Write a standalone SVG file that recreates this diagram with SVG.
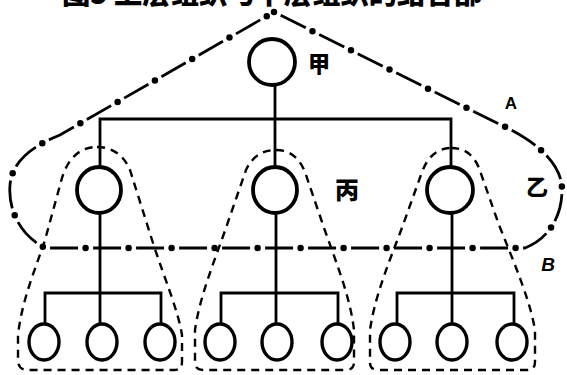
<svg xmlns="http://www.w3.org/2000/svg" width="567" height="375" viewBox="0 0 567 375">
<style>
.bg{fill:#fff}
.tree{fill:none;stroke:#000;stroke-width:2.8;stroke-linecap:square}
.node{fill:#fff;stroke:#000;stroke-width:3.8}
.small{fill:#fff;stroke:#000;stroke-width:3.4}
.grp{fill:none;stroke:#000;stroke-width:2.4;stroke-dasharray:8 6}
.dash{fill:none;stroke:#000;stroke-width:2.8;stroke-dasharray:28 15;stroke-dashoffset:35.5}
.dots{fill:none;stroke:#000;stroke-width:6.5;stroke-linecap:round;stroke-dasharray:0 43}
.cjk{font-family:"Noto Sans CJK SC","Noto Sans CJK JP",sans-serif;font-weight:900;fill:#000;text-anchor:middle}
.lat{font-family:"Liberation Sans",Arial,sans-serif;font-weight:bold;fill:#000;text-anchor:middle}
</style>
<rect class="bg" x="0" y="0" width="567" height="375"/>
<text class="cjk" x="62" y="4" font-size="28" textLength="420" lengthAdjust="spacingAndGlyphs" style="text-anchor:start">图5 上层组织与下层组织的结合部</text>

<g id="loops">
  <path id="loopA" class="dash" d="M274,12 L497,123 C530,138 562,160 562,190 C562,215 550,238 525,248 L45,248 C20,235 8,210 10,185 C12,160 35,145 60,135 Z"/>
  <path class="dots" d="M274,12 L497,123 C530,138 562,160 562,190 C562,215 550,238 525,248 L45,248 C20,235 8,210 10,185 C12,160 35,145 60,135 Z"/>
  <path id="grpL" class="grp" d="M97,147 C115,147 125,158 130,170 L153,243 C165,280 178,310 182,335 L182,362 Q182,370 174,370 L28,370 Q18,370 18,360 L18,335 C22,300 35,270 45,240 L62,178 C68,158 80,147 97,147 Z"/>
  <path id="grpM" class="grp" d="M276,150 C292,150 300,160 305,172 L322,222 C335,260 350,295 354,330 L354,362 Q354,370 346,370 L203,370 Q195,370 195,362 L195,330 C200,295 215,260 228,222 L246,170 C252,157 262,150 276,150 Z"/>
  <path id="grpR" class="grp" d="M451,148 C466,148 474,156 479,168 L499,225 C515,265 530,300 535,330 L535,362 Q535,370 527,370 L378,370 Q370,370 370,362 L370,330 C375,295 390,260 403,225 L422,172 C428,156 438,148 451,148 Z"/>
</g>

<g id="connectors">
  <path class="tree" d="M275,85 V167 M100,119 H451 M100,119 V168 M451,119 V167"/>
  <path class="tree" d="M100,213 V324 M45,293 H161 M45,293 V324 M161,293 V324"/>
  <path class="tree" d="M276,213 V324 M221,293 H338 M221,293 V324 M338,293 V324"/>
  <path class="tree" d="M452,213 V324 M397,293 H514 M397,293 V324 M514,293 V324"/>
</g>

<g id="n-jia"><circle class="node" cx="272" cy="62" r="23"/><text class="cjk" x="319" y="72" font-size="22">甲</text></g>
<g id="n-left"><ellipse class="node" cx="99" cy="190" rx="22" ry="23"/></g>
<g id="n-bing"><ellipse class="node" cx="275" cy="190" rx="22" ry="23"/><text class="cjk" x="347" y="199" font-size="24">丙</text></g>
<g id="n-yi"><ellipse class="node" cx="450" cy="190" rx="23" ry="23"/><text class="cjk" x="537" y="195" font-size="22">乙</text></g>

<g id="n-l1"><ellipse class="small" cx="44" cy="342" rx="15" ry="18"/></g>
<g id="n-l2"><ellipse class="small" cx="102" cy="342" rx="15" ry="18"/></g>
<g id="n-l3"><ellipse class="small" cx="160" cy="342" rx="15" ry="18"/></g>
<g id="n-m1"><ellipse class="small" cx="220" cy="342" rx="15" ry="18"/></g>
<g id="n-m2"><ellipse class="small" cx="277" cy="342" rx="15" ry="18"/></g>
<g id="n-m3"><ellipse class="small" cx="337" cy="342" rx="15" ry="18"/></g>
<g id="n-r1"><ellipse class="small" cx="395" cy="342" rx="15" ry="18"/></g>
<g id="n-r2"><ellipse class="small" cx="452" cy="342" rx="15" ry="18"/></g>
<g id="n-r3"><ellipse class="small" cx="512" cy="342" rx="15" ry="18"/></g>

<g id="labels">
  <text class="lat" x="511" y="109" font-size="17">A</text>
  <text class="lat" x="548" y="271" font-size="19" font-style="italic">B</text>
</g>
</svg>
